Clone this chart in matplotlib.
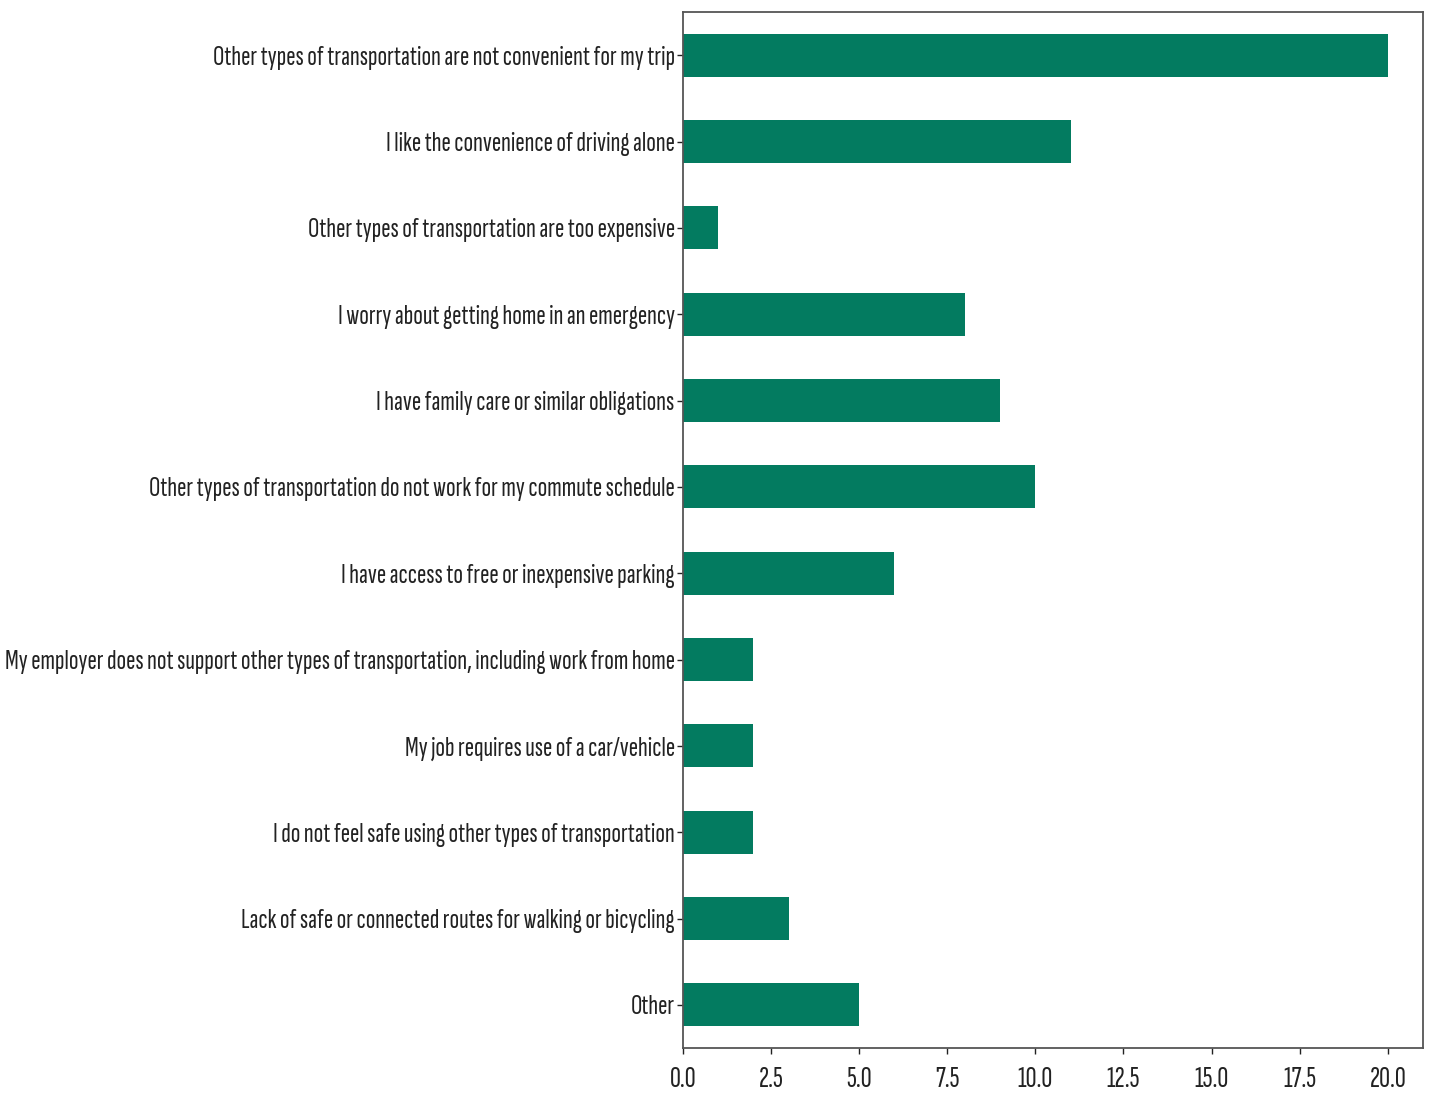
import matplotlib
matplotlib.use('Agg')
import matplotlib.pyplot as plt
from matplotlib.font_manager import FontProperties, fontManager
from matplotlib.textpath import TextPath

categories = [
    "Other types of transportation are not convenient for my trip",
    "I like the convenience of driving alone",
    "Other types of transportation are too expensive",
    "I worry about getting home in an emergency",
    "I have family care or similar obligations",
    "Other types of transportation do not work for my commute schedule",
    "I have access to free or inexpensive parking",
    "My employer does not support other types of transportation, including work from home",
    "My job requires use of a car/vehicle",
    "I do not feel safe using other types of transportation",
    "Lack of safe or connected routes for walking or bicycling",
    "Other",
]
values = [20, 11, 1, 8, 9, 10, 6, 2, 2, 2, 3, 5]
xticks = [0.0, 2.5, 5.0, 7.5, 10.0, 12.5, 15.0, 17.5, 20.0]

names = {f.name for f in fontManager.ttflist}
family = "Sofia Sans Extra Condensed" if "Sofia Sans Extra Condensed" in names else "DejaVu Sans"

# choose a font size so that the longest label is about as wide as in the reference
longest = max(categories, key=len)
probe = TextPath((0, 0), longest, prop=FontProperties(family=family, size=100))
w_pt = probe.get_extents().width  # in points at size 100
target_px = 668
fsize = 100 * target_px / (w_pt * 100 / 72)

plt.rcParams['font.family'] = [family, 'DejaVu Sans']

fig = plt.figure(figsize=(14.32, 10.97), dpi=100)
ax = fig.add_axes([683 / 1432, 1 - 1048 / 1097, (1423 - 683) / 1432, (1048 - 12) / 1097])

ypos = list(range(len(categories)))
ax.barh(ypos, values, height=0.5, color='#037B60')
ax.set_yticks(ypos)
ax.set_yticklabels(categories)
ax.set_ylim(len(categories) - 0.5, -0.5)
ax.set_xlim(0, 21)
ax.set_xticks(xticks)
ax.set_xticklabels([f"{t:.1f}" for t in xticks])

ax.tick_params(axis='both', labelsize=fsize, colors='#222222', length=4, width=1)
ax.tick_params(axis='y', pad=2)
ax.tick_params(axis='x', pad=9, labelsize=fsize * 1.08)
for sp in ax.spines.values():
    sp.set_color('#555555')
    sp.set_linewidth(1.3)

fig.savefig('out.png', dpi=100)
